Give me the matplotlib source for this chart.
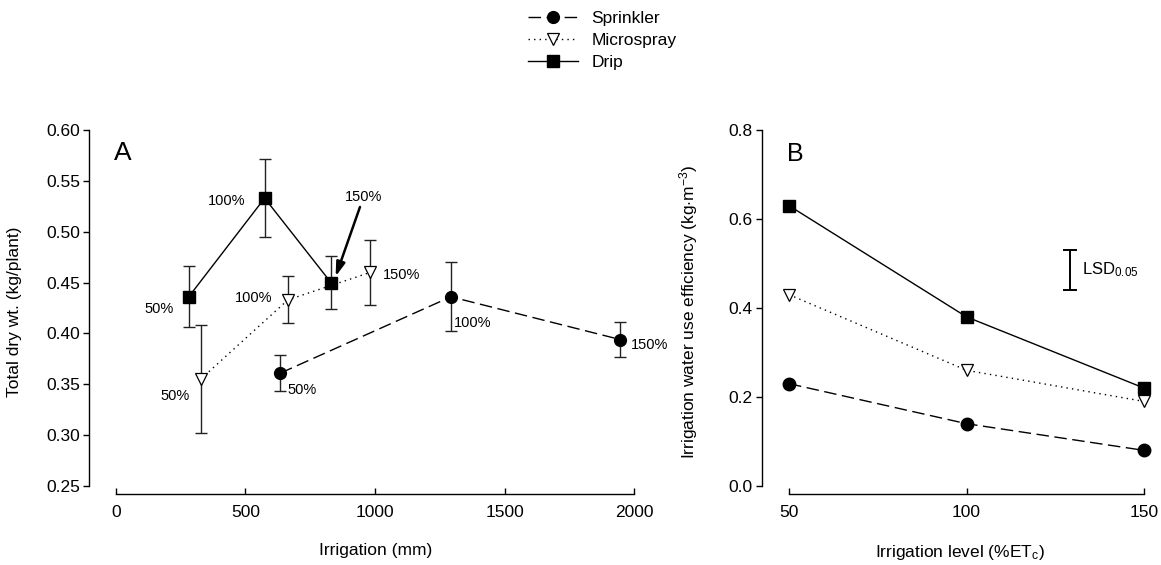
import matplotlib
matplotlib.use('Agg')
from matplotlib import pyplot as plt

plt.rcParams['font.family'] = ['Liberation Sans', 'DejaVu Sans']
plt.rcParams['mathtext.fontset'] = 'custom'
plt.rcParams['mathtext.rm'] = 'Liberation Sans'
plt.rcParams['mathtext.it'] = 'Liberation Sans:italic'
plt.rcParams['font.size'] = 12.5

# panel A: irrigation (mm) vs total dry weight
drip_mm = [281, 574, 830]
drip_wt = [0.436, 0.533, 0.450]
drip_err = [0.030, 0.038, 0.026]
micro_mm = [327, 664, 982]
micro_wt = [0.355, 0.433, 0.460]
micro_err = [0.053, 0.023, 0.032]
spr_mm = [635, 1293, 1946]
spr_wt = [0.361, 0.436, 0.394]
spr_err = [0.018, 0.034, 0.017]
levels = ['50%', '100%', '150%']

# panel B: irrigation level vs water use efficiency
etc_level = [50, 100, 150]
drip_iwue = [0.63, 0.38, 0.22]
micro_iwue = [0.43, 0.26, 0.19]
spr_iwue = [0.23, 0.14, 0.08]
lsd_value = 0.09
lsd_center = 0.485

W, H = 1161, 565
fig = plt.figure(figsize=(W / 100, H / 100), dpi=100)

def px_axes(left, right, top, bottom):
    return fig.add_axes([left / W, 1 - bottom / H, (right - left) / W, (bottom - top) / H])

axA = px_axes(89, 640, 130, 494)
axB = px_axes(762, 1158, 130, 494)

dash = (9, 4)
dot = (1, 3)
ebkw = dict(ecolor='#222222', elinewidth=1, capsize=4, capthick=1)

l_spr, = axA.plot(spr_mm, spr_wt, color='k', lw=1, dashes=dash, marker='o', ms=8.5, zorder=3)
axA.errorbar(spr_mm, spr_wt, yerr=spr_err, fmt='none', **ebkw)
l_mic, = axA.plot(micro_mm, micro_wt, color='k', lw=1, dashes=dot, marker='v', ms=8.5,
                  mfc='white', mec='k', mew=0.9, zorder=3)
axA.errorbar(micro_mm, micro_wt, yerr=micro_err, fmt='none', **ebkw)
l_drp, = axA.plot(drip_mm, drip_wt, color='k', lw=1, ls='-', marker='s', ms=8, zorder=3)
axA.errorbar(drip_mm, drip_wt, yerr=drip_err, fmt='none', **ebkw)

# percentage labels, offsets in points from each point
lab_fs = 10.5
drip_off = [(-11, -9), (-14, -2), None]
micro_off = [(-8, -12), (-11, 1.5), (9, -2)]
spr_off = [(5, -12), (2, -19), (8, -4)]
for xs, ys, offs, ha_list in [(drip_mm, drip_wt, drip_off, ['right', 'right', None]),
                              (micro_mm, micro_wt, micro_off, ['right', 'right', 'left']),
                              (spr_mm, spr_wt, spr_off, ['left', 'left', 'left'])]:
    for i in range(3):
        if offs[i] is None:
            continue
        axA.annotate(levels[i], (xs[i], ys[i]), xytext=offs[i], textcoords='offset points',
                     ha=ha_list[i], va='center', fontsize=lab_fs)

axA.annotate(levels[2], xy=(drip_mm[2] + 18, drip_wt[2] + 0.006), xytext=(20, 52),
             textcoords='offset points', ha='center', va='bottom', fontsize=lab_fs,
             arrowprops=dict(arrowstyle='-|>,head_length=0.8,head_width=0.25', color='k',
                             lw=1.8, shrinkA=0, shrinkB=0))

axA.set_xlim(-104, 2023)
axA.set_ylim(0.2421, 0.60)
axA.set_xticks([0, 500, 1000, 1500, 2000])
axA.set_yticks([0.25, 0.30, 0.35, 0.40, 0.45, 0.50, 0.55, 0.60])
axA.set_yticklabels(['%.2f' % v for v in axA.get_yticks()])
axA.spines['bottom'].set_bounds(0, 2000)
axA.spines['left'].set_bounds(0.25, 0.60)
axA.set_xlabel('Irrigation (mm)')
axA.set_ylabel('Total dry wt. (kg/plant)')
axA.text(0.045, 0.937, 'A', transform=axA.transAxes, fontsize=19, ha='left', va='center')

# panel B
axB.plot(etc_level, spr_iwue, color='k', lw=1, dashes=dash, marker='o', ms=9, zorder=3)
axB.plot(etc_level, micro_iwue, color='k', lw=1, dashes=dot, marker='v', ms=9,
         mfc='white', mec='k', mew=0.9, zorder=3)
axB.plot(etc_level, drip_iwue, color='k', lw=1, ls='-', marker='s', ms=8.5, zorder=3)
axB.errorbar([129], [lsd_center], yerr=[lsd_value / 2], fmt='none', ecolor='k',
             elinewidth=1.4, capsize=5, capthick=1.4)
axB.text(132.5, lsd_center + 0.002, r'LSD$_{\mathrm{0.05}}$', ha='left', va='center', fontsize=12)
axB.set_xlim(42.4, 153.9)
axB.set_ylim(-0.018, 0.8)
axB.set_xticks(etc_level)
axB.set_yticks([0.0, 0.2, 0.4, 0.6, 0.8])
axB.set_yticklabels(['%.1f' % v for v in axB.get_yticks()])
axB.spines['bottom'].set_bounds(50, 150)
axB.spines['left'].set_bounds(0.0, 0.8)
axB.set_xlabel(r'Irrigation level (%ET$_{\mathrm{c}}$)')
axB.set_ylabel(r'Irrigation water use efficiency (kg$\cdot$m$^{\mathrm{-3}}$)')
axB.text(0.062, 0.934, 'B', transform=axB.transAxes, fontsize=18, ha='left', va='center')

for ax in (axA, axB):
    for s in ('top', 'right'):
        ax.spines[s].set_visible(False)
    for s in ('left', 'bottom'):
        ax.spines[s].set_linewidth(1)
    ax.tick_params(axis='x', direction='in', length=4.5, width=1, pad=8, labelsize=12.5)
    ax.tick_params(axis='y', direction='out', length=4.5, width=1, pad=2, labelsize=12.5)
    ax.xaxis.set_label_coords(0.5 if ax is axB else 0.52, -0.135)

axA.yaxis.set_label_coords(-0.122, 0.5)
axB.yaxis.set_label_coords(-0.157, 0.5)

fig.legend([l_spr, l_mic, l_drp], ['Sprinkler', 'Microspray', 'Drip'],
           loc='upper left', bbox_to_anchor=(528 / W, 1 - 11 / H), frameon=False,
           borderpad=0, borderaxespad=0, handlelength=2.9, handletextpad=0.75,
           labelspacing=0.4, fontsize=12.5)

fig.savefig('out.png', dpi=100)
